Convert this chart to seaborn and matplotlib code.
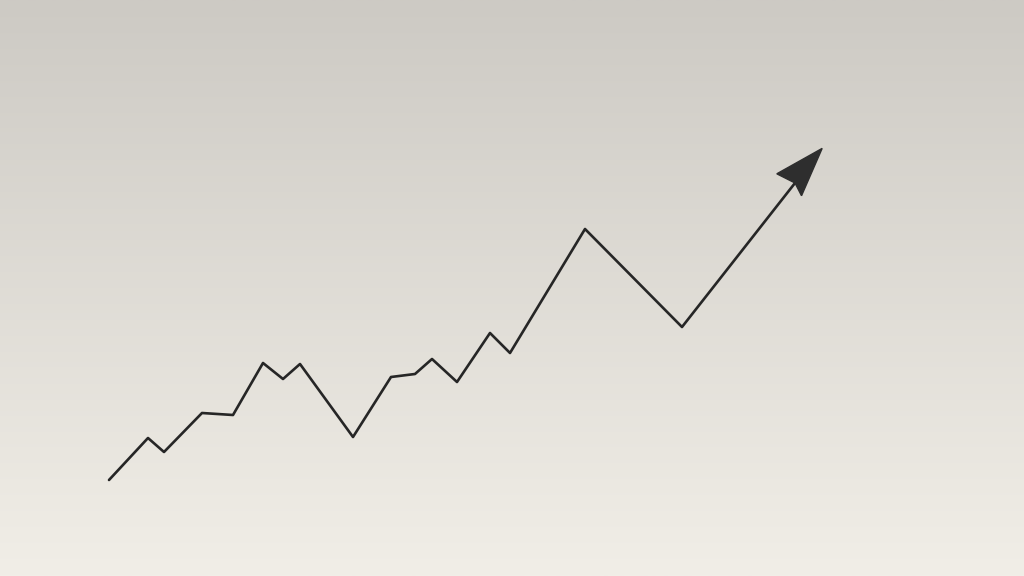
import numpy as np
import pandas as pd
import matplotlib
matplotlib.use("Agg")
import matplotlib.pyplot as plt
import seaborn as sns
from matplotlib.patches import Polygon

# line values (x position, value)
x_vals = [109, 148, 164, 202, 233, 263, 283, 300, 353, 391, 415, 432, 457, 490, 510, 585, 682, 795]
y_vals = [96, 138, 124, 163, 161, 213, 197, 212, 139, 199, 202, 217, 194, 243, 223, 347, 249, 393]

df = pd.DataFrame({"x": x_vals, "y": y_vals})

sns.set_theme(style="white")
fig = plt.figure(figsize=(10.24, 5.76), dpi=100)
ax = fig.add_axes([0, 0, 1, 1])
ax.axis("off")

# background gradient, darker grey at the top
top = np.array([205, 202, 196]) / 255
bottom = np.array([241, 238, 231]) / 255
t = np.linspace(0, 1, 256)[:, None]
grad = (top * (1 - t) + bottom * t)[:, None, :]
ax.imshow(grad, extent=[0, 1024, 0, 576], aspect="auto", zorder=0,
          origin="upper")

sns.lineplot(data=df, x="x", y="y", ax=ax, color="#262626", linewidth=1.9,
             sort=False, zorder=2)

# arrow head at the end of the last segment
p0 = np.array([x_vals[-2], y_vals[-2]], dtype=float)
p1 = np.array([x_vals[-1], y_vals[-1]], dtype=float)
d = (p1 - p0) / np.linalg.norm(p1 - p0)
n = np.array([-d[1], d[0]])
tip = p1 + d * 44
left = p1 - d * 4 + n * 20
right = p1 - d * 6 - n * 13
head = Polygon([tip, left, p1, right], closed=True, facecolor="#2e2e2e",
               edgecolor="#2e2e2e", linewidth=1, zorder=3)
ax.add_patch(head)

ax.set_xlim(0, 1024)
ax.set_ylim(0, 576)
ax.axis("off")

fig.savefig("out.png", dpi=100)
